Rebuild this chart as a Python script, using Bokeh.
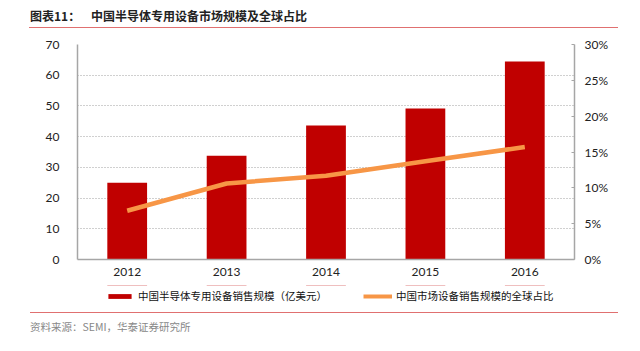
from bokeh.plotting import figure
from bokeh.models import (Range1d, LinearAxis, FixedTicker, PrintfTickFormatter,
                          Legend, LegendItem, Div, ColumnDataSource)
from bokeh.layouts import column
from bokeh.embed import file_html
from bokeh.resources import INLINE

years = ["2012", "2013", "2014", "2015", "2016"]
sales = [25.0, 33.8, 43.6, 49.2, 64.5]          # 亿美元
share = [6.8, 10.6, 11.7, 13.7, 15.7]            # % of global

title_text = "图表11：&nbsp;&nbsp;&nbsp;&nbsp;中国半导体专用设备市场规模及全球占比"
source_text = "资料来源：SEMI，华泰证券研究所"
bar_label = "中国半导体专用设备销售规模（亿美元）"
line_label = "中国市场设备销售规模的全球占比"

BAR_COLOR = "#C00000"
LINE_COLOR = "#F79646"
RULE_COLOR = "#E07070"
AXIS_COLOR = "#A6A6A6"
TICK_FONT = "Lato"
CJK = "Noto Sans CJK SC"

src = ColumnDataSource(dict(year=years, sales=sales, share=share))

p = figure(x_range=years, y_range=Range1d(0, 70), width=640, height=251,
           output_backend="svg", toolbar_location=None,
           min_border_left=77, min_border_right=66, min_border_top=10,
           min_border_bottom=26)
p.outline_line_color = None
p.background_fill_color = "white"
p.border_fill_color = "white"
p.x_range.range_padding = 0

p.extra_y_ranges = {"pct": Range1d(0, 30)}

bars = p.vbar(x="year", top="sales", width=0.4, source=src,
              fill_color=BAR_COLOR, line_color=None)
line = p.line(x="year", y="share", source=src, y_range_name="pct",
              line_color=LINE_COLOR, line_width=4.5, line_join="round")

# grid
p.xgrid.grid_line_color = None
p.ygrid.grid_line_color = "#A0A0A0"
p.ygrid.grid_line_dash = "1 2"
p.ygrid.grid_line_width = 1
p.yaxis.ticker = FixedTicker(ticks=[0, 10, 20, 30, 40, 50, 60, 70])

# left axis
ya = p.yaxis[0]
ya.axis_line_color = AXIS_COLOR
ya.axis_line_width = 1.5
ya.major_tick_line_color = None
ya.minor_tick_line_color = None
ya.major_label_text_font = TICK_FONT
ya.major_label_text_font_size = "12px"
ya.major_label_text_color = "#222222"
ya.major_label_standoff = 12

# right axis
ra = LinearAxis(y_range_name="pct", ticker=FixedTicker(ticks=[0, 5, 10, 15, 20, 25, 30]),
                formatter=PrintfTickFormatter(format="%d%%"))
ra.axis_line_color = AXIS_COLOR
ra.axis_line_width = 1.5
ra.major_tick_line_color = AXIS_COLOR
ra.major_tick_in = 3
ra.major_tick_out = 0
ra.minor_tick_line_color = None
ra.major_label_text_font = TICK_FONT
ra.major_label_text_font_size = "12px"
ra.major_label_text_color = "#222222"
ra.major_label_standoff = 10
p.add_layout(ra, "right")

# x axis
xa = p.xaxis[0]
xa.axis_line_color = AXIS_COLOR
xa.axis_line_width = 1.5
xa.major_tick_line_color = None
xa.minor_tick_line_color = None
xa.major_label_text_font = TICK_FONT
xa.major_label_text_font_size = "12px"
xa.major_label_text_color = "#222222"
xa.major_label_standoff = 2
p.margin = (0, 0, 0, 0)

# legend strip: a small figure (frame aligned with the main frame) whose
# renderers use the same data but lie outside its visible range
lg = figure(width=640, height=27, x_range=years, y_range=Range1d(-2, -1),
            x_axis_type=None, y_axis_type=None, output_backend="svg",
            toolbar_location=None, min_border=0, min_border_left=77,
            min_border_right=66, min_border_top=0, min_border_bottom=0)
lg.outline_line_color = None
lg.xgrid.visible = False
lg.ygrid.visible = False
lg.margin = (0, 0, 0, 0)
lb = lg.vbar(x="year", top="sales", width=0.4, source=src,
             fill_color=BAR_COLOR, line_color=None)
ll = lg.line(x="year", y="share", source=src, line_color=LINE_COLOR, line_width=4)

legend = Legend(items=[LegendItem(label=bar_label, renderers=[lb]),
                       LegendItem(label=line_label, renderers=[ll])],
                orientation="horizontal", location=(28, 9),
                label_text_font=CJK, label_text_font_size="10.5px",
                label_text_color="#111111", label_height=14,
                glyph_width=29, glyph_height=6, label_standoff=4,
                spacing=36, padding=2, margin=0,
                border_line_color=None, background_fill_alpha=0)
lg.add_layout(legend, "center")

title = Div(text=(
    '<div style="position:relative;width:640px;height:34px;margin:0;padding:0;">'
    f'<div style="position:absolute;left:30px;top:9px;font-family:\'{CJK}\';'
    'font-weight:bold;font-size:12px;color:#222;white-space:nowrap;line-height:14px;">'
    f'{title_text}</div>'
    f'<div style="position:absolute;left:29px;top:27px;width:589px;height:0;'
    f'border-top:1px solid {RULE_COLOR};"></div></div>'),
    width=640, height=34, margin=(0, 0, 0, 0))

footer = Div(text=(
    '<div style="position:relative;width:640px;height:39px;margin:0;padding:0;">'
    f'<div style="position:absolute;left:30px;top:0px;width:588px;height:0;'
    f'border-top:1px solid {RULE_COLOR};"></div>'
    f'<div style="position:absolute;left:30px;top:8px;font-family:\'{CJK}\';'
    'font-size:10.5px;color:#888;white-space:nowrap;line-height:13px;">'
    f'{source_text}</div></div>'),
    width=640, height=39, margin=(0, 0, 0, 0))

layout = column(title, p, lg, footer, spacing=0, margin=(0, 0, 0, 0))

open("out.html", "w").write(file_html(layout, INLINE))
